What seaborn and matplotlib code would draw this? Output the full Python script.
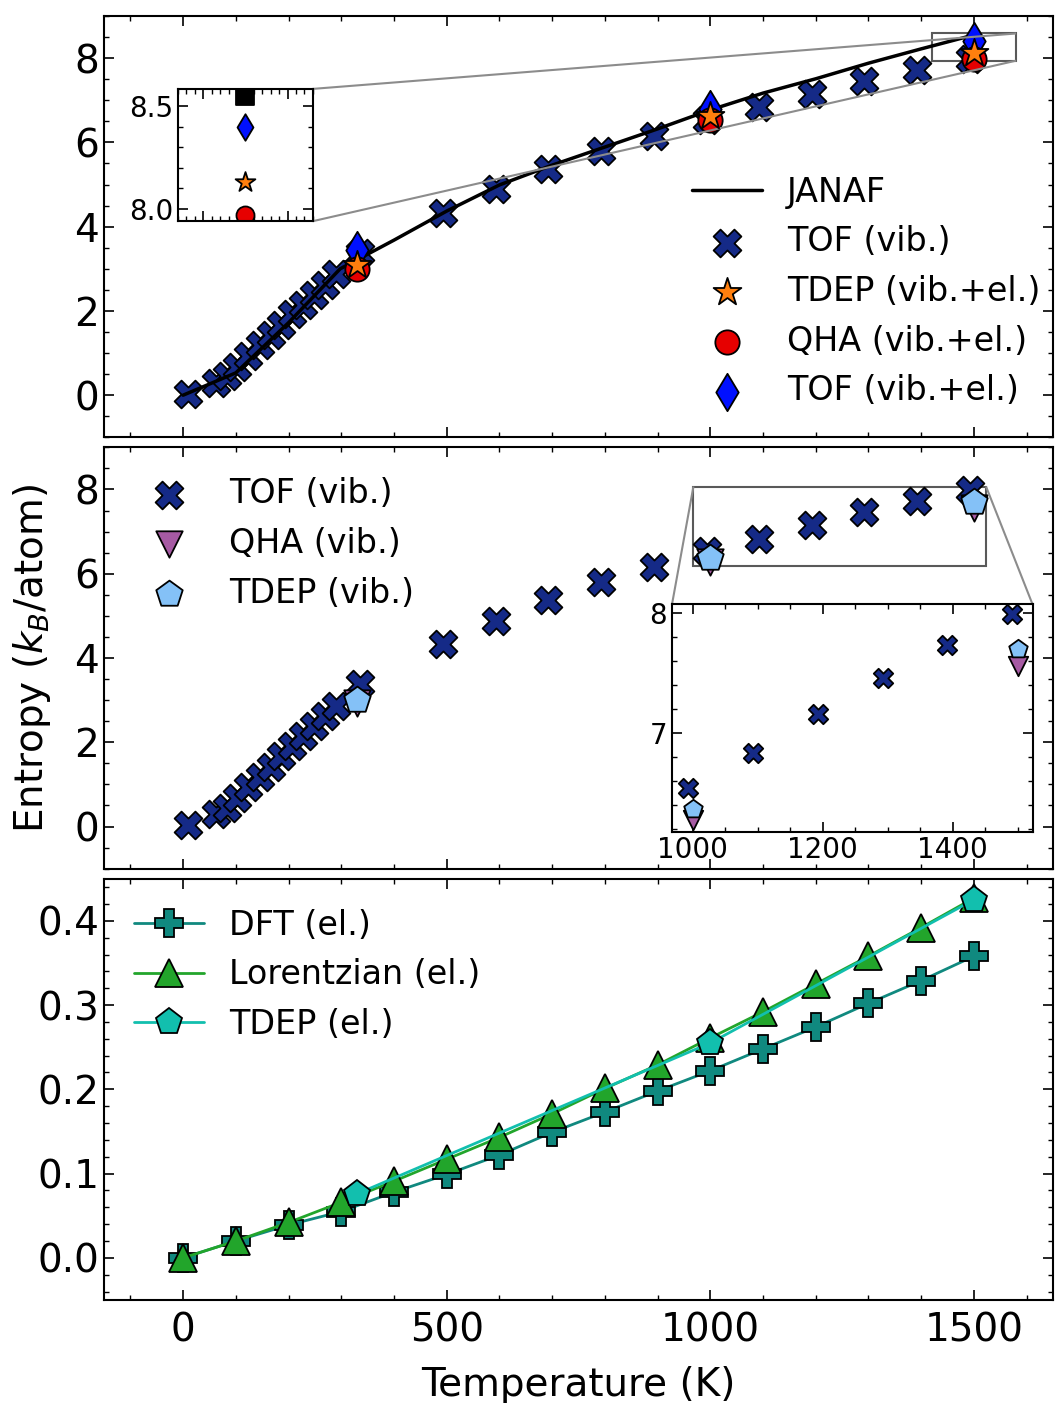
import matplotlib
matplotlib.use("Agg")
import matplotlib.pyplot as plt
from matplotlib.ticker import MultipleLocator, NullFormatter
from mpl_toolkits.axes_grid1.inset_locator import mark_inset
import seaborn as sns

# ---------------- data ----------------
# JANAF reference entropy (k_B/atom)
T_janaf = [0, 100, 200, 298, 400, 500, 600, 700, 800, 900, 1000, 1100, 1200, 1300, 1400, 1500]
S_janaf = [0.0, 0.53, 1.72, 3.00, 3.68, 4.37, 4.99, 5.46, 5.89, 6.32, 6.77, 7.17, 7.51, 7.88, 8.22, 8.55]

# TOF vibrational entropy
T_tof = [10, 62, 83, 103, 124, 145, 166, 186, 207, 228, 248, 269, 290, 335,
         493, 593, 693, 793, 893, 993, 1093, 1193, 1292, 1392, 1492]
S_tof_vib = [0.03, 0.30, 0.45, 0.68, 0.93, 1.18, 1.42, 1.67, 1.92, 2.15, 2.38, 2.62, 2.87, 3.38,
             4.33, 4.89, 5.37, 5.80, 6.16, 6.54, 6.83, 7.16, 7.46, 7.73, 7.99]

# calculated temperatures
T_calc = [330, 1000, 1500]
S_tdep_vib = [3.00, 6.37, 7.70]
S_qha_vib = [2.93, 6.28, 7.56]
S_tdep_vibel = [3.08, 6.63, 8.13]
S_qha_vibel = [3.00, 6.53, 7.97]
S_tof_vibel = [3.45, 6.79, 8.40]

# electronic entropy
T_el = [0, 100, 200, 300, 400, 500, 600, 700, 800, 900, 1000, 1100, 1200, 1300, 1400, 1500]
S_dft_el = [0.0, 0.020, 0.039, 0.055, 0.078, 0.099, 0.122, 0.149, 0.173, 0.198,
            0.222, 0.248, 0.274, 0.302, 0.329, 0.358]
S_lor_el = [0.0, 0.020, 0.042, 0.066, 0.091, 0.117, 0.143, 0.171, 0.201, 0.229,
            0.261, 0.292, 0.325, 0.358, 0.392, 0.427]
S_tdep_el = [0.076, 0.255, 0.425]

# ---------------- style ----------------
C_TOF = "#152a87"
C_STAR = "#ff7f0e"
C_QHA = "#e60000"
C_DIAM = "#0010ff"
C_TRI = "#a65aa3"
C_PENT = "#84c1f7"
C_DFT = "#10897f"
C_LOR = "#22a52b"
C_TDEL = "#12bfae"

sns.set_style("ticks")
plt.rcParams.update({
    "font.family": ["DejaVu Sans"],
    "axes.edgecolor": "k", "axes.labelcolor": "k", "text.color": "k",
    "xtick.color": "k", "ytick.color": "k",
    "axes.linewidth": 1.5,
    "xtick.direction": "in", "ytick.direction": "in",
    "xtick.top": True, "ytick.right": True,
    "xtick.minor.visible": True, "ytick.minor.visible": True,
    "xtick.major.size": 7, "ytick.major.size": 7,
    "xtick.minor.size": 3.5, "ytick.minor.size": 3.5,
    "xtick.major.width": 1.2, "ytick.major.width": 1.2,
    "xtick.minor.width": 1.0, "ytick.minor.width": 1.0,
    "xtick.labelsize": 28, "ytick.labelsize": 28,
    "axes.labelsize": 28, "legend.fontsize": 24,
})


def pts(ax, x, y, marker, ms, color, label=None, z=2):
    sns.scatterplot(x=x, y=y, ax=ax, marker=marker, s=ms ** 2, color=color,
                    edgecolor="k", linewidth=1.3, label=label, zorder=z)


def legend(ax, order, **kw):
    h, l = ax.get_legend_handles_labels()
    d = dict(zip(l, h))
    ax.legend([d[k] for k in order], order, frameon=False, scatterpoints=1,
              handlelength=2.1, handletextpad=0.75, **kw)


fig, (ax1, ax2, ax3) = plt.subplots(3, 1, figsize=(10.55, 14.03), dpi=100, sharex=True)
fig.subplots_adjust(left=104 / 1055, right=1053 / 1055, top=1 - 16 / 1403,
                    bottom=1 - 1300 / 1403, hspace=10 / 421)

# ---------------- top: total entropy ----------------
pts(ax1, T_tof, S_tof_vib, "X", 20, C_TOF, "TOF (vib.)", z=2)
sns.lineplot(x=T_janaf, y=S_janaf, ax=ax1, color="k", lw=2.5, label="JANAF", zorder=3)
pts(ax1, T_calc, S_tof_vibel, "d", 19, C_DIAM, "TOF (vib.+el.)", z=4)
pts(ax1, T_calc, S_qha_vibel, "o", 17.5, C_QHA, "QHA (vib.+el.)", z=5)
pts(ax1, T_calc, S_tdep_vibel, "*", 21, C_STAR, "TDEP (vib.+el.)", z=6)
legend(ax1, ["JANAF", "TOF (vib.)", "TDEP (vib.+el.)", "QHA (vib.+el.)", "TOF (vib.+el.)"],
       loc="lower right", bbox_to_anchor=(1.018, 0.0))

axin1 = ax1.inset_axes([0.078, 0.513, 0.142, 0.314])
pts(axin1, T_janaf, S_janaf, "s", 13, "k", z=1)
pts(axin1, T_calc, S_tof_vibel, "d", 13.5, C_DIAM, z=1)
pts(axin1, T_calc, S_tdep_vibel, "*", 15, C_STAR, z=1)
pts(axin1, T_calc, S_qha_vibel, "o", 13, C_QHA, z=1)
axin1.set_xlim(1420, 1580)
axin1.set_ylim(7.94, 8.585)
axin1.xaxis.set_major_locator(MultipleLocator(50))
axin1.xaxis.set_minor_locator(MultipleLocator(10))
axin1.xaxis.set_major_formatter(NullFormatter())
axin1.yaxis.set_major_locator(MultipleLocator(0.5))
axin1.yaxis.set_minor_locator(MultipleLocator(0.1))
axin1.tick_params(labelsize=20)
axin1.set_xlabel("")
axin1.set_ylabel("")
pp, p1, p2 = mark_inset(ax1, axin1, loc1=1, loc2=4, ec="0.35", lw=1.5)
for p in (p1, p2):
    p.set_edgecolor("0.55")

# ---------------- middle: vibrational entropy ----------------
pts(ax2, T_tof, S_tof_vib, "X", 20, C_TOF, "TOF (vib.)", z=2)
pts(ax2, T_calc, S_qha_vib, "v", 19, C_TRI, "QHA (vib.)", z=3)
pts(ax2, T_calc, S_tdep_vib, "p", 20, C_PENT, "TDEP (vib.)", z=4)
legend(ax2, ["TOF (vib.)", "QHA (vib.)", "TDEP (vib.)"], loc="upper left")

axin2 = ax2.inset_axes([0.5985, 0.088, 0.380, 0.539])
pts(axin2, T_tof, S_tof_vib, "X", 14, C_TOF, z=1)
pts(axin2, T_calc, S_qha_vib, "v", 14, C_TRI, z=1)
pts(axin2, T_calc, S_tdep_vib, "p", 14, C_PENT, z=1)
axin2.set_xlim(968, 1523)
axin2.set_ylim(6.18, 8.07)
axin2.xaxis.set_major_locator(MultipleLocator(200))
axin2.xaxis.set_minor_locator(MultipleLocator(50))
axin2.yaxis.set_major_locator(MultipleLocator(1))
axin2.yaxis.set_minor_locator(MultipleLocator(0.2))
axin2.tick_params(labelsize=20)
axin2.set_xlabel("")
axin2.set_ylabel("")
pp, p1, p2 = mark_inset(ax2, axin2, loc1=2, loc2=1, ec="0.35", lw=1.5)
for p in (p1, p2):
    p.set_edgecolor("0.55")

# ---------------- bottom: electronic entropy ----------------
line_kw = dict(lw=2, markersize=20, markeredgecolor="k", markeredgewidth=1.3)
sns.lineplot(x=T_el, y=S_dft_el, ax=ax3, color=C_DFT, marker="P", label="DFT (el.)", **line_kw)
sns.lineplot(x=T_el, y=S_lor_el, ax=ax3, color=C_LOR, marker="^", label="Lorentzian (el.)", **line_kw)
sns.lineplot(x=T_calc, y=S_tdep_el, ax=ax3, color=C_TDEL, marker="p", label="TDEP (el.)", **line_kw)
legend(ax3, ["DFT (el.)", "Lorentzian (el.)", "TDEP (el.)"], loc="upper left")

# ---------------- axes ----------------
for ax in (ax1, ax2):
    ax.set_ylim(-1, 9)
    ax.yaxis.set_major_locator(MultipleLocator(2))
    ax.yaxis.set_minor_locator(MultipleLocator(0.5))
    ax.set_ylabel("")
ax3.set_ylim(-0.05, 0.45)
ax3.yaxis.set_major_locator(MultipleLocator(0.1))
ax3.yaxis.set_minor_locator(MultipleLocator(0.02))
ax3.set_xlim(-150, 1650)
ax3.xaxis.set_major_locator(MultipleLocator(500))
ax3.xaxis.set_minor_locator(MultipleLocator(100))
ax3.tick_params(axis="x", which="major", pad=8)
ax3.set_ylabel("")
for ax in (ax1, ax2, ax3):
    ax.set_xlabel("")
ax3.set_xlabel("Temperature (K)", labelpad=12)
ax2.set_ylabel("Entropy ($k_B$/atom)", labelpad=15)

fig.savefig("out.png", dpi=100)
